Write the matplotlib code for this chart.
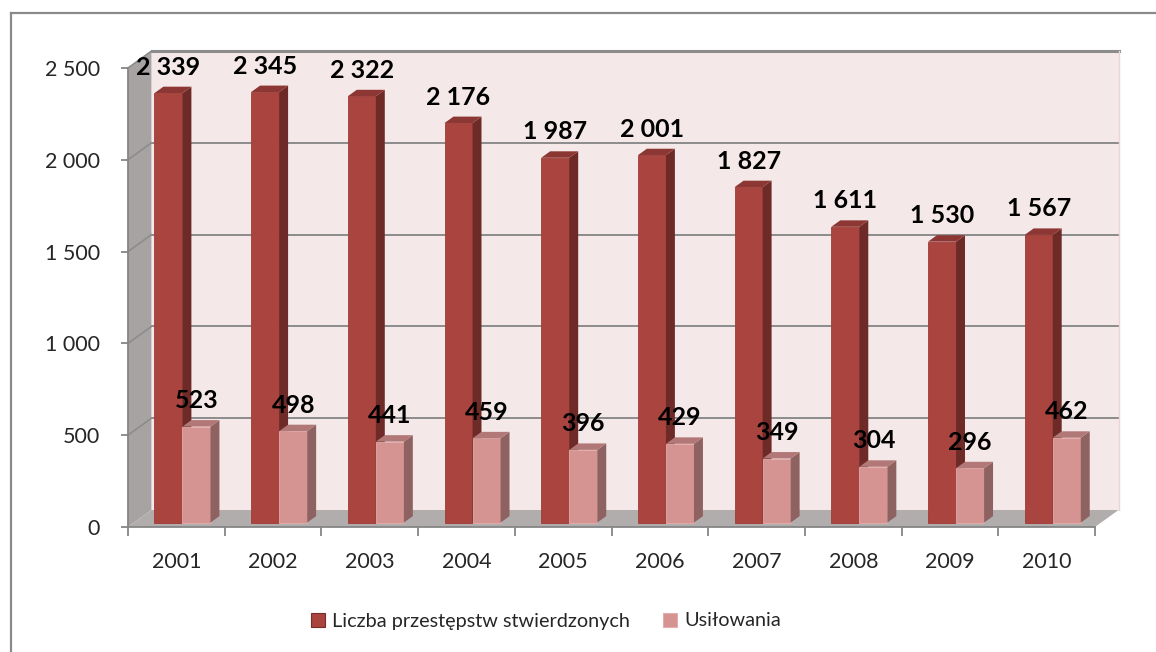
import matplotlib
matplotlib.use("Agg")
import matplotlib.pyplot as plt
from matplotlib.patches import Polygon, Patch
from matplotlib.lines import Line2D

# ---- data ----
years = ["2001", "2002", "2003", "2004", "2005", "2006", "2007", "2008", "2009", "2010"]
stwierdzone = [2339, 2345, 2322, 2176, 1987, 2001, 1827, 1611, 1530, 1567]
usilowania = [523, 498, 441, 459, 396, 429, 349, 304, 296, 462]
series_names = ["Liczba przestępstw stwierdzonych", "Usiłowania"]
yticks = [0, 500, 1000, 1500, 2000, 2500]

plt.rcParams['font.family'] = ['Lato', 'DejaVu Sans']

W, H = 1156, 652
fig = plt.figure(figsize=(W / 100, H / 100), dpi=100)
fig.patch.set_facecolor("white")

# axes: front plane x from 128 to 1095 px, y 0 at 527 px, 2500 at 68 px
left, right, y0px, ytop = 128, 1095, 527, 68
ax = fig.add_axes([left / W, (H - y0px) / H, (right - left) / W, (y0px - ytop) / H])
n = len(years)
ax.set_xlim(-0.5, n - 0.5)
ax.set_ylim(0, 2500)
ax.patch.set_visible(False)

# 3D depth offset (pixels) converted to data units
dxp, dyp = 23.5, 17.0
px_per_x = (right - left) / n
px_per_y = (y0px - ytop) / 2500.0
ox, oy = dxp / px_per_x, dyp / px_per_y

grid_c = "#8C8C8C"
xl, xr = -0.5, n - 0.5
# back wall
ax.add_patch(Polygon([(xl + ox, oy), (xr + ox, oy), (xr + ox, 2500 + oy), (xl + ox, 2500 + oy)],
                     closed=True, facecolor="#F4E8E8", edgecolor="none", zorder=1, clip_on=False))
# side wall
ax.add_patch(Polygon([(xl, 0), (xl + ox, oy), (xl + ox, 2500 + oy), (xl, 2500)],
                     closed=True, facecolor="#A7A3A3", edgecolor="none", zorder=1, clip_on=False))
# floor
ax.add_patch(Polygon([(xl, 0), (xr, 0), (xr + ox, oy), (xl + ox, oy)],
                     closed=True, facecolor="#B2ADAD", edgecolor="none", zorder=1, clip_on=False))
# gridlines on back wall and side wall
for t in yticks[1:]:
    lw = 2.2 if t == 2500 else 1.4
    ax.add_line(Line2D([xl + ox, xr + ox], [t + oy, t + oy], color=grid_c, lw=lw, zorder=2, clip_on=False))
    ax.add_line(Line2D([xl, xl + ox], [t, t + oy], color=grid_c, lw=1.2, zorder=2, clip_on=False))
ax.add_line(Line2D([xr + ox, xr + ox], [oy, 2500 + oy], color="#EAD6D6", lw=1.0, zorder=2, clip_on=False))

# bars
bw = 0.29
f_front, f_depth = 0.26, 0.38
styles = [
    dict(front="#A9443F", side="#6E2A27", top="#8C3733", edge="#A03C38"),
    dict(front="#D59392", side="#8E6261", top="#B27877", edge="#E3AEAD"),
]
for s, vals in enumerate([stwierdzone, usilowania]):
    st = styles[s]
    x0s = [i - bw if s == 0 else i for i in range(n)]
    bx = [x + f_front * ox for x in x0s]
    bb = f_front * oy
    ax.bar(bx, vals, width=bw, bottom=bb, align="edge", color=st["front"],
           edgecolor=st["edge"], linewidth=0.6, zorder=3 + s, clip_on=False)
    for x0, v in zip(bx, vals):
        x1 = x0 + bw
        ddx, ddy = f_depth * ox, f_depth * oy
        ax.add_patch(Polygon([(x1, bb), (x1 + ddx, bb + ddy), (x1 + ddx, bb + ddy + v), (x1, bb + v)],
                             closed=True, facecolor=st["side"], edgecolor="none", zorder=3 + s, clip_on=False))
        ax.add_patch(Polygon([(x0, bb + v), (x1, bb + v), (x1 + ddx, bb + v + ddy), (x0 + ddx, bb + v + ddy)],
                             closed=True, facecolor=st["top"], edgecolor="none", zorder=3 + s, clip_on=False))
        lab = f"{v:,}".replace(",", " ")
        ax.text(x0 + bw / 2, v + bb + ddy + 12 / px_per_y, lab, ha="center", va="baseline",
                fontsize=18, fontweight="bold", color="black", zorder=10, clip_on=False)

# axes styling
axis_c = "#868686"
for sp in ["top", "right"]:
    ax.spines[sp].set_visible(False)
for sp in ["left", "bottom"]:
    ax.spines[sp].set_color(axis_c)
    ax.spines[sp].set_linewidth(1.3)
    ax.spines[sp].set_zorder(6)
ax.set_yticks(yticks)
ax.set_yticklabels([f"{t:,}".replace(",", " ") for t in yticks])
ax.tick_params(axis="y", length=5, width=1.3, color=axis_c, pad=15, labelsize=15.5, labelcolor="#262626")
ax.set_xticks(range(n))
ax.set_xticklabels(years)
ax.tick_params(axis="x", which="major", length=0, pad=18, labelsize=15.5, labelcolor="#262626")
ax.set_xticks([i - 0.5 for i in range(n + 1)], minor=True)
ax.tick_params(axis="x", which="minor", length=6.5, width=1.3, color=axis_c)

# legend
handles = [Patch(facecolor=styles[0]["front"], edgecolor="#7A2C29", linewidth=0.8),
           Patch(facecolor=styles[1]["front"], edgecolor="#E3AEAD", linewidth=0.8)]
fig.legend(handles, series_names, loc="center", bbox_to_anchor=(546 / W, (H - 621) / H),
           ncol=2, frameon=False, fontsize=14.3, handlelength=0.7, handleheight=0.7,
           handletextpad=0.35, columnspacing=1.7, labelcolor="#262626")

# outer frame
fig.add_artist(Line2D([11 / W, 11 / W], [0, (H - 13) / H], color="#8A8A8A", lw=1.6, transform=fig.transFigure))
fig.add_artist(Line2D([11 / W, 1], [(H - 13) / H, (H - 13) / H], color="#8A8A8A", lw=1.6, transform=fig.transFigure))

fig.savefig("out.png", dpi=100)
